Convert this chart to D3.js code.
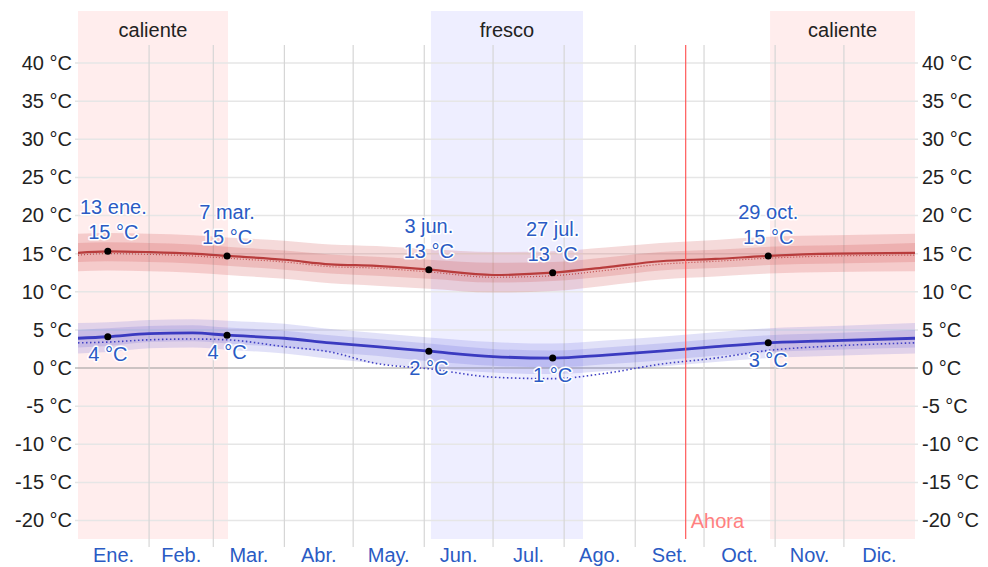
<!DOCTYPE html>
<html>
<head>
<meta charset="utf-8">
<script src="https://cdn.jsdelivr.net/npm/d3@7"></script>
<style>
  body { margin: 0; background: #fff; }
  svg { display: block; font-family: "Liberation Sans", Arial, sans-serif; }
</style>
</head>
<body>
<script>
// day of year sample points for all series
const days      = [0, 13, 31, 50, 65, 90, 110, 130, 153, 181, 207, 230, 254, 278, 301, 330, 365];
const highTemp  = [15.1, 15.3, 15.2, 15.0, 14.7, 14.2, 13.6, 13.4, 12.9, 12.2, 12.5, 13.2, 14.0, 14.3, 14.7, 15.0, 15.1];
const highP90   = [17.6, 17.7, 17.6, 17.4, 17.1, 16.7, 16.2, 16.0, 15.6, 15.2, 15.3, 15.8, 16.4, 16.8, 17.2, 17.4, 17.6];
const highP75   = [16.4, 16.5, 16.4, 16.2, 15.9, 15.4, 14.9, 14.6, 14.2, 13.8, 13.9, 14.5, 15.2, 15.5, 15.9, 16.1, 16.4];
const highP25   = [13.9, 14.0, 13.9, 13.7, 13.4, 12.9, 12.4, 12.1, 11.7, 11.2, 11.4, 12.0, 12.8, 13.1, 13.5, 13.7, 13.9];
const highP10   = [12.7, 12.8, 12.7, 12.5, 12.2, 11.7, 11.1, 10.8, 10.4, 9.9, 10.1, 10.8, 11.6, 12.0, 12.4, 12.6, 12.7];
const feelsHigh = [14.8, 15.0, 14.9, 14.7, 14.4, 13.9, 13.3, 13.1, 12.6, 11.9, 12.1, 12.8, 13.6, 14.0, 14.4, 14.7, 14.8];
const lowTemp   = [3.9, 4.1, 4.5, 4.6, 4.3, 3.9, 3.3, 2.8, 2.2, 1.5, 1.3, 1.7, 2.2, 2.8, 3.3, 3.6, 3.9];
const lowP90    = [5.9, 6.0, 6.3, 6.4, 6.2, 5.8, 5.1, 4.6, 4.0, 3.4, 3.2, 3.6, 4.1, 4.7, 5.2, 5.5, 5.9];
const lowP75    = [5.0, 5.2, 5.5, 5.6, 5.3, 4.9, 4.3, 3.8, 3.2, 2.5, 2.3, 2.7, 3.2, 3.8, 4.3, 4.6, 5.0];
const lowP25    = [2.7, 2.9, 3.4, 3.5, 3.2, 2.7, 2.1, 1.6, 0.9, 0.3, 0.1, 0.5, 1.0, 1.6, 2.1, 2.4, 2.7];
const lowP10    = [1.9, 2.1, 2.6, 2.7, 2.4, 1.9, 1.2, 0.6, 0.0, -0.6, -0.8, -0.4, 0.2, 0.8, 1.3, 1.6, 1.9];
const feelsLow  = [3.3, 3.4, 3.7, 3.8, 3.7, 2.8, 2.1, 0.6, -0.1, -1.2, -1.4, -0.7, 0.5, 1.3, 2.3, 2.9, 3.3];

const monthNames = ["Ene.", "Feb.", "Mar.", "Abr.", "May.", "Jun.", "Jul.", "Ago.", "Set.", "Oct.", "Nov.", "Dic."];
const monthLen   = [31, 28, 31, 30, 31, 30, 31, 31, 30, 31, 30, 31];
const yTicks     = [-20, -15, -10, -5, 0, 5, 10, 15, 20, 25, 30, 35, 40];

// seasons: start day, end day, label
const seasonStart = [0, 153.9, 301.8];
const seasonEnd   = [65.4, 220.2, 365];
const seasonType  = ["caliente", "fresco", "caliente"];

const annotDays  = [13, 65, 153, 207, 301];
const annotDates = ["13 ene.", "7 mar.", "3 jun.", "27 jul.", "29 oct."];
const annotHigh  = [15.3, 14.7, 12.9, 12.5, 14.7];
const annotLow   = [4.1, 4.3, 2.2, 1.3, 3.3];

const nowDay = 265;

const W = 988, H = 567;
const svg = d3.select("body").append("svg").attr("width", W).attr("height", H);

const x = d3.scaleLinear().domain([0, 365]).range([78, 915]);
const y = d3.scaleLinear().domain([-20, 40]).range([520.5, 63]);
const bandTop = 11, plotBottom = 539;

// season backgrounds
const seasons = seasonStart.map((s, i) => ({ s: s, e: seasonEnd[i], t: seasonType[i] }));
svg.selectAll("rect.season")
    .data(seasons)
    .enter()
    .append("rect")
    .attr("x", d => x(d.s))
    .attr("y", bandTop)
    .attr("width", d => x(d.e) - x(d.s))
    .attr("height", plotBottom - bandTop)
    .attr("fill", d => d.t === "caliente" ? "#ffeded" : "#eeeeff");

svg.selectAll("text.season")
    .data(seasons)
    .enter()
    .append("text")
    .attr("x", d => (x(d.s) + x(d.e)) / 2)
    .attr("y", 37)
    .attr("text-anchor", "middle")
    .attr("font-size", "20px")
    .attr("fill", "#222")
    .text(d => d.t);

// horizontal grid
svg.selectAll("line.hgrid")
    .data(yTicks)
    .enter()
    .append("line")
    .attr("x1", 75).attr("x2", 918)
    .attr("y1", d => y(d)).attr("y2", d => y(d))
    .attr("stroke", d => d === 0 ? "#9a9a9a" : "#e6e6e6")
    .attr("stroke-width", d => d === 0 ? 1.2 : 1.5);

// vertical month grid
const monthStarts = [];
let acc = 0;
monthLen.forEach(l => { monthStarts.push(acc); acc += l; });
svg.selectAll("line.vgrid")
    .data(monthStarts.slice(1))
    .enter()
    .append("line")
    .attr("x1", d => x(d)).attr("x2", d => x(d))
    .attr("y1", 45).attr("y2", 547)
    .attr("stroke", "#d6d6d6")
    .attr("stroke-width", 1.2);

// y axis labels
const yAxisL = d3.axisLeft(y).tickValues(yTicks).tickSize(0).tickPadding(0).tickFormat(d => d + " °C");
const yAxisR = d3.axisRight(y).tickValues(yTicks).tickSize(0).tickPadding(0).tickFormat(d => d + " °C");
const gl = svg.append("g").attr("transform", "translate(72,0)").call(yAxisL);
const gr = svg.append("g").attr("transform", "translate(922,0)").call(yAxisR);
[gl, gr].forEach(g => {
    g.select(".domain").remove();
    g.selectAll("text").attr("font-size", "20px").attr("fill", "#222")
        .attr("font-family", "Liberation Sans, Arial, sans-serif");
});

// month labels
svg.selectAll("text.month")
    .data(monthNames)
    .enter()
    .append("text")
    .attr("x", (d, i) => x(monthStarts[i] + monthLen[i] / 2))
    .attr("y", 562)
    .attr("text-anchor", "middle")
    .attr("font-size", "20px")
    .attr("fill", "#2a5bc4")
    .text(d => d);

// bands and lines
const pts = (arr) => days.map((d, i) => [d, arr[i]]);
const area = (lo, hi) => d3.area()
    .x((d, i) => x(days[i]))
    .y0((d, i) => y(lo[i]))
    .y1((d, i) => y(hi[i]))
    .curve(d3.curveMonotoneX)(days);
const line = d3.line().x(d => x(d[0])).y(d => y(d[1])).curve(d3.curveMonotoneX);

svg.append("path").attr("d", area(highP10, highP90)).attr("fill", "rgba(205,70,70,0.2)");
svg.append("path").attr("d", area(highP25, highP75)).attr("fill", "rgba(205,70,70,0.2)");
svg.append("path").attr("d", area(lowP10, lowP90)).attr("fill", "rgba(80,80,215,0.17)");
svg.append("path").attr("d", area(lowP25, lowP75)).attr("fill", "rgba(80,80,215,0.17)");

svg.append("path").attr("d", line(pts(feelsHigh))).attr("fill", "none")
    .attr("stroke", "#c04a4a").attr("stroke-width", 1.2).attr("stroke-dasharray", "1,2");
svg.append("path").attr("d", line(pts(feelsLow))).attr("fill", "none")
    .attr("stroke", "#4040c4").attr("stroke-width", 1.6).attr("stroke-dasharray", "1.5,2.5");
svg.append("path").attr("d", line(pts(highTemp))).attr("fill", "none")
    .attr("stroke", "#b83c3c").attr("stroke-width", 2.2);
svg.append("path").attr("d", line(pts(lowTemp))).attr("fill", "none")
    .attr("stroke", "#3a3ac0").attr("stroke-width", 2.8);

// now line
svg.append("line")
    .attr("x1", x(nowDay)).attr("x2", x(nowDay))
    .attr("y1", 45).attr("y2", plotBottom)
    .attr("stroke", "#ff5a5a").attr("stroke-width", 1.2);
svg.append("text")
    .attr("x", x(nowDay) + 5).attr("y", 528)
    .attr("font-size", "20px").attr("fill", "#ff8080")
    .text("Ahora");

// annotations
const annots = annotDays.map((d, i) => ({ day: d, date: annotDates[i], hi: annotHigh[i], lo: annotLow[i] }));
const halo = (sel) => sel.attr("stroke", "#fff").attr("stroke-width", 3)
    .attr("stroke-linejoin", "round").attr("paint-order", "stroke");

const hiLabels = svg.selectAll("g.hiLab")
    .data(annots)
    .enter()
    .append("g");
hiLabels.append("text")
    .attr("y", d => y(d.hi) - 37)
    .text(d => d.date);
hiLabels.append("text")
    .attr("y", d => y(d.hi) - 12)
    .text(d => Math.round(d.hi) + " °C");
hiLabels.selectAll("text")
    .attr("text-anchor", "middle")
    .attr("font-size", "20px")
    .attr("fill", "#2a5bc4")
    .call(halo);
// keep labels inside the plot
hiLabels.each(function (d) {
    const g = d3.select(this);
    let w = 0;
    g.selectAll("text").each(function () { w = Math.max(w, this.getComputedTextLength()); });
    const cx = Math.max(x(d.day), x(0) + w / 2 + 2);
    g.selectAll("text").attr("x", cx);
});

svg.selectAll("text.loLab")
    .data(annots)
    .enter()
    .append("text")
    .attr("x", d => x(d.day))
    .attr("y", d => y(d.lo) + 24)
    .attr("text-anchor", "middle")
    .attr("font-size", "20px")
    .attr("fill", "#2a5bc4")
    .call(halo)
    .text(d => Math.round(d.lo) + " °C");

svg.selectAll("circle.hi")
    .data(annots)
    .enter()
    .append("circle")
    .attr("cx", d => x(d.day)).attr("cy", d => y(d.hi)).attr("r", 3.5).attr("fill", "#000");
svg.selectAll("circle.lo")
    .data(annots)
    .enter()
    .append("circle")
    .attr("cx", d => x(d.day)).attr("cy", d => y(d.lo)).attr("r", 3.5).attr("fill", "#000");
</script>
</body>
</html>
